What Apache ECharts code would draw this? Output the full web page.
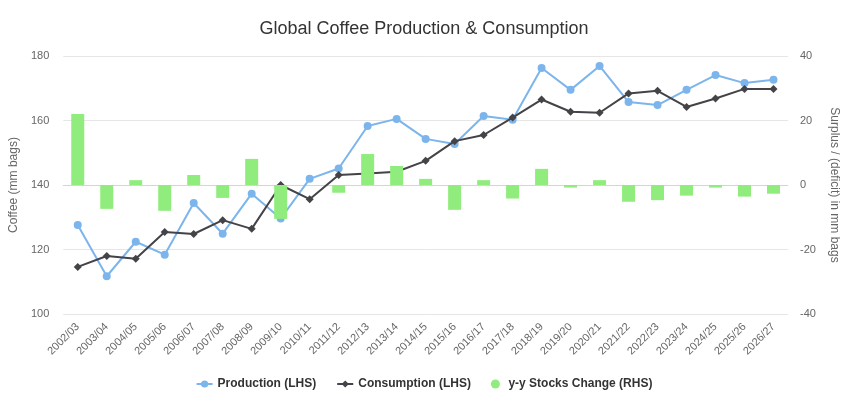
<!DOCTYPE html>
<html>
<head>
<meta charset="utf-8">
<script src="https://cdn.jsdelivr.net/npm/echarts@6/dist/echarts.min.js"></script>
<style>
  html, body { margin: 0; padding: 0; background: #fff; }
  #main { width: 848px; height: 398px; }
</style>
</head>
<body>
<div id="main"></div>
<script>
// crop years
var years = ["2002/03", "2003/04", "2004/05", "2005/06", "2006/07", "2007/08", "2008/09",
  "2009/10", "2010/11", "2011/12", "2012/13", "2013/14", "2014/15", "2015/16", "2016/17",
  "2017/18", "2018/19", "2019/20", "2020/21", "2021/22", "2022/23", "2023/24", "2024/25",
  "2025/26", "2026/27"];

// mm bags (LHS)
var production = [127.6, 111.7, 122.4, 118.4, 134.4, 124.9, 137.3, 129.6, 141.9, 145.1,
  158.3, 160.5, 154.3, 152.7, 161.4, 160.2, 176.3, 169.5, 176.9, 165.7, 164.8, 169.5,
  174.1, 171.6, 172.6];
var consumption = [114.6, 118.0, 117.1, 125.4, 124.8, 129.1, 126.4, 140.0, 135.6, 143.1,
  143.6, 144.1, 147.5, 153.6, 155.5, 160.9, 166.5, 162.7, 162.4, 168.4, 169.2, 164.2,
  166.8, 169.8, 169.8];

// y-y stocks change, mm bags (RHS)
var stocksChange = [22.0, -7.4, 1.5, -8.0, 3.1, -4.0, 8.1, -10.5, 0, -2.4, 9.6, 5.9, 1.9,
  -7.7, 1.5, -4.2, 5.0, -0.8, 1.5, -5.2, -4.7, -3.3, -0.8, -3.6, -2.7];

var chart = echarts.init(document.getElementById("main"));

var fontFam = '"Liberation Sans", Arial, sans-serif';

chart.setOption({
  animation: false,
  textStyle: { fontFamily: fontFam },
  title: {
    text: "Global Coffee Production & Consumption",
    left: "center",
    top: 15,
    textStyle: { fontSize: 18, fontWeight: "normal", color: "#333333", fontFamily: fontFam }
  },
  legend: {
    bottom: 3,
    left: "center",
    itemGap: 20,
    itemWidth: 16,
    itemHeight: 9,
    textStyle: { fontSize: 12, fontWeight: "bold", color: "#333333" },
    data: [
      { name: "Production (LHS)" },
      { name: "Consumption (LHS)" },
      { name: "y-y Stocks Change (RHS)", icon: "circle", itemStyle: { color: "#90ed7d" } }
    ]
  },
  grid: { left: 62, right: 57, top: 56, bottom: 84 },
  xAxis: {
    type: "category",
    data: years,
    boundaryGap: true,
    axisLine: { lineStyle: { color: "#ccd6eb" } },
    axisTick: { lineStyle: { color: "#ccd6eb" }, length: 9, alignWithLabel: false },
    axisLabel: { rotate: 45, color: "#666666", fontSize: 11, interval: 0, margin: 11 }
  },
  yAxis: [
    {
      type: "value",
      name: "Coffee (mm bags)",
      nameLocation: "middle",
      nameGap: 38,
      nameTextStyle: { color: "#666666", fontSize: 12 },
      min: 100, max: 180, interval: 20,
      axisLine: { show: false },
      axisTick: { show: false },
      axisLabel: { color: "#666666", fontSize: 11, margin: 14 },
      splitLine: { lineStyle: { color: "#e6e6e6" } }
    },
    {
      type: "value",
      name: "Surplus / (deficit) in mm bags",
      nameLocation: "middle",
      nameGap: 40,
      nameRotate: -90,
      nameTextStyle: { color: "#666666", fontSize: 12 },
      min: -40, max: 40, interval: 20,
      axisLine: { show: false },
      axisTick: { show: false },
      axisLabel: { color: "#666666", fontSize: 11, margin: 12 },
      splitLine: { show: false }
    }
  ],
  series: [
    {
      name: "Production (LHS)",
      type: "line",
      yAxisIndex: 0,
      data: production,
      symbol: "circle",
      symbolSize: 8,
      color: "#7cb5ec",
      lineStyle: { width: 2, color: "#7cb5ec" },
      itemStyle: { color: "#7cb5ec" },
      z: 2
    },
    {
      name: "Consumption (LHS)",
      type: "line",
      yAxisIndex: 0,
      data: consumption,
      symbol: "diamond",
      symbolSize: 8,
      color: "#434348",
      lineStyle: { width: 2, color: "#434348" },
      itemStyle: { color: "#434348" },
      z: 3
    },
    {
      name: "y-y Stocks Change (RHS)",
      type: "bar",
      yAxisIndex: 1,
      data: stocksChange,
      barWidth: 13,
      itemStyle: { color: "#90ed7d" },
      z: 4
    }
  ]
});
</script>
</body>
</html>
